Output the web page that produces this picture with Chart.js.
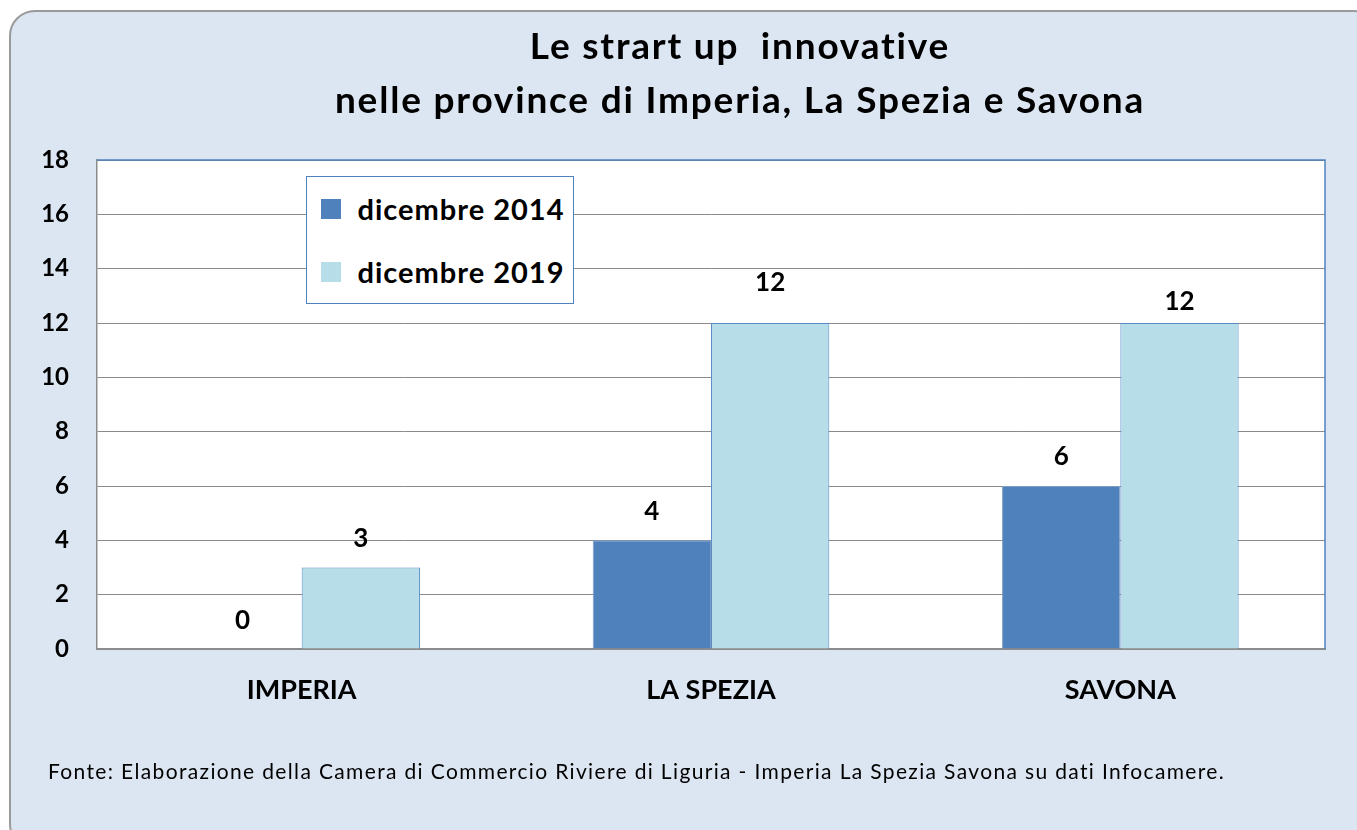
<!DOCTYPE html>
<html lang="it">
<head>
<meta charset="utf-8">
<title>Le strart up innovative</title>
<script src="https://cdn.jsdelivr.net/npm/chart.js@4.4.1/dist/chart.umd.min.js"></script>
<style>
  html, body { margin: 0; padding: 0; background: #ffffff; overflow: hidden; }
  body { width: 1357px; height: 830px; position: relative; font-family: Lato, "Open Sans", sans-serif; }
  #frame {
    position: absolute; left: 9px; top: 10px; width: 1370px; height: 840px;
    background: #dce6f2; border: 2px solid #9a9a9a; border-radius: 26px; box-sizing: border-box;
  }
  #chartWrap { position: absolute; left: 0; top: 0; width: 1357px; height: 830px; }
  #title {
    position: absolute; left: 290px; width: 900px; top: 18px; text-align: center;
    font-weight: 700; font-size: 37px; line-height: 54px; letter-spacing: 1.8px; color: #000;
  }
  #legend {
    position: absolute; left: 306px; top: 176px; width: 268px; height: 128px;
    background: #fff; border: 1.5px solid #4f81bd; box-sizing: border-box;
  }
  .leg-item { position: absolute; left: 13.5px; height: 30px; display: flex; align-items: center;
    font-weight: 700; font-size: 29px; letter-spacing: 1px; color: #000; white-space: nowrap; }
  .leg-item span.sw { display: inline-block; width: 20px; height: 20px; margin-right: 17px; }
  #source {
    position: absolute; left: 48px; top: 758px; font-size: 21px; letter-spacing: 1.35px;
    color: #000; white-space: nowrap;
  }
</style>
</head>
<body>
<div id="frame"></div>
<div id="chartWrap"><canvas id="barChart" width="1357" height="830"></canvas></div>
<div id="title">Le strart up&nbsp; innovative<br>nelle province di Imperia, La Spezia e Savona</div>
<div id="legend"></div>
<div id="source">Fonte: Elaborazione della Camera di Commercio Riviere di Liguria - Imperia La Spezia Savona su dati Infocamere.</div>
<script>
// Dati
const province = ['IMPERIA', 'LA SPEZIA', 'SAVONA'];
const serieLabels = ['dicembre 2014', 'dicembre 2019'];
const dic2014 = [0, 4, 6];
const dic2019 = [3, 12, 12];
const yTicks = [0, 2, 4, 6, 8, 10, 12, 14, 16, 18];

const colori = ['#4f81bd', '#b7dde8'];
const bordi = ['#7f9cc0', '#5b8cc8'];

// Distanza (px) delle etichette dal top della barra, come nell'originale
const labelLift = [
  [28, 29, 29],
  [29, 40, 21],
];

const LABEL_FONT = 'bold 26px Lato, "Open Sans", sans-serif';

// Sfondo bianco e bordo superiore/destro blu del riquadro del grafico
const plotFrame = {
  id: 'plotFrame',
  beforeDraw(chart) {
    const { ctx, chartArea: a } = chart;
    ctx.save();
    ctx.fillStyle = '#ffffff';
    ctx.fillRect(a.left, a.top, a.right - a.left, a.bottom - a.top);
    ctx.restore();
  },
  afterDraw(chart) {
    const { ctx, chartArea: a } = chart;
    ctx.save();
    ctx.strokeStyle = '#4f81bd';
    ctx.lineWidth = 1.5;
    ctx.beginPath();
    ctx.moveTo(a.left, a.top);
    ctx.lineTo(a.right, a.top);
    ctx.lineTo(a.right, a.bottom);
    ctx.stroke();
    ctx.restore();
  },
};

// Etichette dei valori sopra le barre
const valueLabels = {
  id: 'valueLabels',
  afterDatasetsDraw(chart) {
    const { ctx } = chart;
    ctx.save();
    ctx.font = LABEL_FONT;
    ctx.fillStyle = '#000';
    ctx.textAlign = 'center';
    ctx.textBaseline = 'middle';
    chart.data.datasets.forEach((ds, i) => {
      const meta = chart.getDatasetMeta(i);
      meta.data.forEach((bar, j) => {
        ctx.fillText(String(ds.data[j]), bar.x, bar.y - labelLift[i][j]);
      });
    });
    ctx.restore();
  },
};

const chart = new Chart(document.getElementById('barChart').getContext('2d'), {
  type: 'bar',
  data: {
    labels: province,
    datasets: [
      {
        label: serieLabels[0],
        data: dic2014,
        backgroundColor: colori[0],
        borderColor: bordi[0],
        borderWidth: 1,
      },
      {
        label: serieLabels[1],
        data: dic2019,
        backgroundColor: colori[1],
        borderColor: bordi[1],
        borderWidth: 1,
      },
    ],
  },
  options: {
    responsive: false,
    animation: false,
    events: [],
    layout: { padding: { top: 160, right: 32, left: 0, bottom: 0 } },
    datasets: {
      bar: { barPercentage: 1, categoryPercentage: 0.578 },
    },
    plugins: {
      legend: { display: false },
      tooltip: { enabled: false },
      title: { display: false },
    },
    scales: {
      x: {
        grid: { display: false, drawTicks: false },
        border: { color: '#8c8c8c', width: 2 },
        ticks: { color: '#000', font: { family: 'Lato', size: 27, weight: 'bold' }, padding: 25 },
        afterFit: (scale) => { scale.height = 181; },
      },
      y: {
        min: 0,
        max: 18,
        afterBuildTicks: (scale) => { scale.ticks = yTicks.map((v) => ({ value: v })); },
        grid: { color: '#8a8a8a', lineWidth: 1, drawTicks: false },
        border: { color: '#8c8c8c', width: 1.5 },
        ticks: { color: '#000', font: { family: 'Lato', size: 24, weight: 'bold' }, padding: 28 },
        afterFit: (scale) => { scale.width = 97; },
      },
    },
  },
  plugins: [plotFrame, valueLabels],
});

// Legenda HTML costruita dai dataset
const legend = document.getElementById('legend');
chart.data.datasets.forEach((ds, i) => {
  const item = document.createElement('div');
  item.className = 'leg-item';
  item.style.top = (i === 0 ? 16.5 : 79.5) + 'px';
  item.innerHTML = `<span class="sw" style="background:${ds.backgroundColor}"></span>${ds.label}`;
  legend.appendChild(item);
});
</script>
</body>
</html>
